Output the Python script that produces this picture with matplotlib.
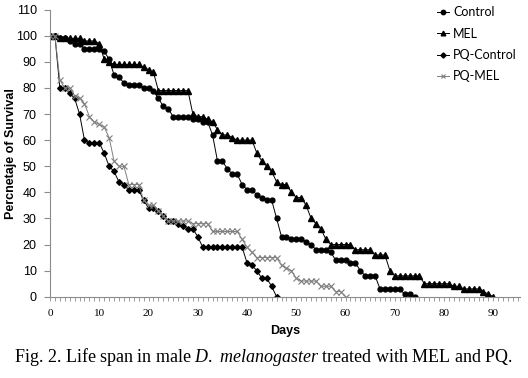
import matplotlib
matplotlib.use("Agg")
import matplotlib.pyplot as plt
import numpy as np

# Survival (%) per day
control = [100, 100, 99, 99, 98, 97, 97, 95, 95, 95, 95, 94, 91, 85, 84, 82, 81, 81, 81, 80,
           80, 79, 76, 73, 72, 69, 69, 69, 69, 68, 68, 67, 67, 62, 52, 52, 49, 47, 47, 43,
           41, 41, 39, 38, 37, 37, 30, 23, 23, 22, 22, 22, 21, 20, 18, 18, 18, 17, 14, 14,
           14, 13, 13, 10, 8, 8, 8, 3, 3, 3, 3, 3, 1, 1, 0]
mel = [100, 100, 99, 99, 99, 99, 99, 98, 98, 98, 97, 91, 90, 89, 89, 89, 89, 89, 89, 88,
       87, 86, 79, 79, 79, 79, 79, 79, 79, 70, 69, 69, 68, 67, 64, 62, 62, 61, 60, 60,
       60, 60, 55, 52, 50, 48, 44, 43, 43, 40, 38, 38, 35, 30, 28, 26, 22, 20, 20, 20,
       20, 20, 18, 18, 18, 18, 16, 16, 16, 10, 8, 8, 8, 8, 8, 8, 5, 5, 5, 5,
       5, 5, 4, 4, 3, 3, 3, 3, 2, 1, 0]
pq_control = [100, 100, 80, 80, 78, 76, 70, 60, 59, 59, 59, 55, 50, 48, 44, 43, 41, 41, 41, 37,
              34, 34, 33, 31, 29, 29, 28, 27, 26, 26, 23, 19, 19, 19, 19, 19, 19, 19, 19, 19,
              13, 12, 10, 7, 7, 4, 0]
pq_mel = [100, 100, 83, 80, 80, 77, 76, 74, 69, 67, 66, 65, 61, 52, 50, 50, 43, 43, 43, 37,
          35, 35, 33, 31, 29, 29, 29, 29, 29, 28, 28, 28, 28, 25, 25, 25, 25, 25, 25, 22,
          19, 17, 15, 15, 15, 15, 15, 12, 11, 10, 7, 6, 6, 6, 6, 4, 4, 4, 2, 2, 0]

series_labels = ["Control", "MEL", "PQ-Control", "PQ-MEL"]
x_ticks = [0, 10, 20, 30, 40, 50, 60, 70, 80, 90]
y_ticks = [0, 10, 20, 30, 40, 50, 60, 70, 80, 90, 100, 110]

plt.rcParams['mathtext.fontset'] = 'custom'
plt.rcParams['mathtext.rm'] = 'Liberation Serif'
plt.rcParams['mathtext.it'] = 'Liberation Serif:italic'

fig = plt.figure(figsize=(5.28, 3.78), dpi=100)
ax = fig.add_axes([0.0947, 0.215, 0.89, 0.7595])

ax.plot(np.arange(len(control)), control, color='black', lw=0.7, marker='o', ms=3.5,
        label=series_labels[0])
ax.plot(np.arange(len(mel)), mel, color='black', lw=0.7, marker='^', ms=3.7,
        label=series_labels[1])
ax.plot(np.arange(len(pq_control)), pq_control, color='black', lw=0.7, marker='D', ms=2.9,
        label=series_labels[2])
ax.plot(np.arange(len(pq_mel)), pq_mel, color='#7f7f7f', lw=0.7, marker='x', ms=3.8,
        mew=0.8, label=series_labels[3])

ax.set_xlim(0, 95.4)
ax.set_ylim(0, 110)
ax.set_xticks(x_ticks)
ax.set_xticks(np.arange(0, 96), minor=True)
ax.set_yticks(y_ticks)

for side in ['top', 'right']:
    ax.spines[side].set_visible(False)
for side in ['left', 'bottom']:
    ax.spines[side].set_color('#8c8c8c')
    ax.spines[side].set_linewidth(0.8)

ax.tick_params(axis='y', direction='out', length=4, color='#8c8c8c', labelsize=9, pad=5.5)
ax.tick_params(axis='x', which='both', direction='out', length=3, color='#8c8c8c', width=0.6)
ax.tick_params(axis='x', which='major', labelsize=8, pad=6)
for lab in ax.get_xticklabels():
    lab.set_family('Liberation Serif')
for lab in ax.get_yticklabels():
    lab.set_family('Liberation Sans')

ax.set_xlabel('Days', fontsize=9, fontweight='bold', family='Liberation Sans', labelpad=5)
ax.set_ylabel('Percnetaje of Survival', fontsize=9, fontweight='bold',
              family='Liberation Sans', labelpad=-1)

fig.legend(loc='upper left', bbox_to_anchor=(0.806, 1.013), frameon=False,
           prop={'family': 'Lato', 'size': 9}, handlelength=1.0, handletextpad=0.3,
           labelspacing=0.75, markerscale=0.9)

fig.text(0.5, 0.055, r'Fig. 2. Life span in male $\it{D.\ melanogaster}$ treated with MEL and PQ.',
         ha='center', va='center', fontsize=13, family='Liberation Serif')

fig.savefig('out.png', dpi=100)
